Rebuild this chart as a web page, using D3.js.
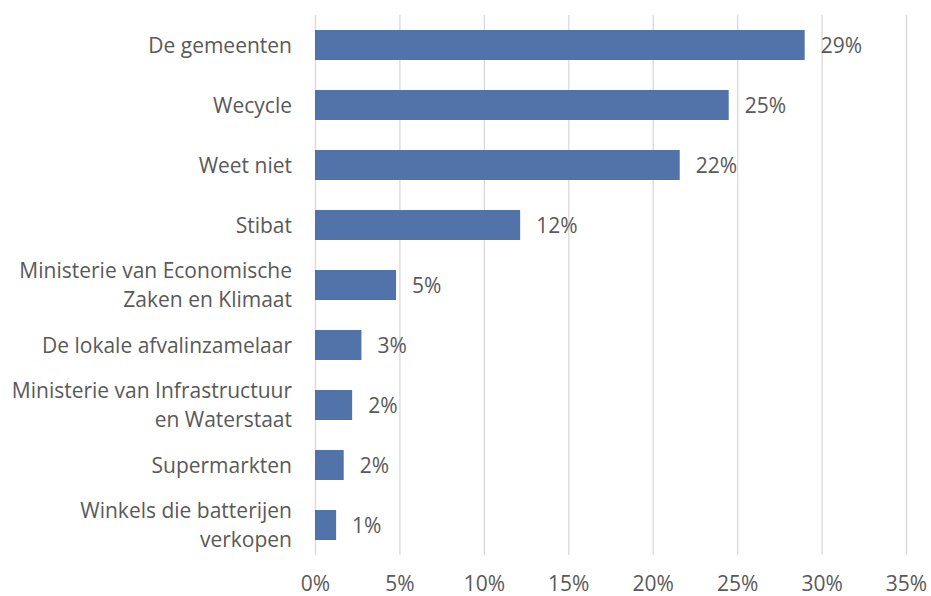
<!DOCTYPE html>
<html lang="nl">
<head>
  <meta charset="utf-8">
  <title>Wie is verantwoordelijk</title>
  <style>
    body { margin: 0; background: #fff; }
    svg text { font-family: 'Open Sans', 'Noto Sans', sans-serif; fill: #595959; }
  </style>
  <script src="https://d3js.org/d3.v7.min.js"></script>
</head>
<body>
  <svg id="chart" width="931" height="596"></svg>

  <script>
    // data (percent)
    var categories = [
      "De gemeenten",
      "Wecycle",
      "Weet niet",
      "Stibat",
      "Ministerie van Economische\nZaken en Klimaat",
      "De lokale afvalinzamelaar",
      "Ministerie van Infrastructuur\nen Waterstaat",
      "Supermarkten",
      "Winkels die batterijen\nverkopen"
    ];
    var values = [29.0, 24.5, 21.6, 12.15, 4.8, 2.75, 2.2, 1.7, 1.25];
    var ticks = [0, 5, 10, 15, 20, 25, 30, 35];

    var fontSize = 21;
    var svg = d3.select("#chart");

    var x = d3.scaleLinear().domain([0, 35]).range([315, 906]);
    var y = d3.scaleBand().domain(categories).range([15, 555])
      .paddingInner(0.5).paddingOuter(0.25);

    // gridlines + x tick labels
    var xAxis = svg.append("g")
      .attr("transform", "translate(0,555)")
      .call(d3.axisBottom(x).tickValues(ticks).tickSize(-540)
        .tickFormat(function (d) { return d + "%"; }));
    xAxis.select(".domain").remove();
    xAxis.selectAll(".tick line").attr("stroke", "#d9d9d9").attr("stroke-width", 1.3);
    xAxis.selectAll(".tick text")
      .attr("y", 36).attr("dy", null)
      .attr("font-size", fontSize)
      .style("fill", "#595959");

    // category labels
    var yAxis = svg.append("g")
      .attr("transform", "translate(292,0)")
      .call(d3.axisLeft(y).tickSize(0).tickPadding(0));
    yAxis.select(".domain").remove();
    yAxis.selectAll(".tick text").each(function (d) {
      var lines = d.split("\n");
      var t = d3.select(this).text(null)
        .attr("x", 0).attr("dy", null)
        .attr("font-size", fontSize)
        .attr("text-anchor", "end")
        .style("fill", "#595959");
      var lh = 28.5;
      var y0 = 7.5 - (lines.length - 1) * lh / 2;
      lines.forEach(function (l, i) {
        t.append("tspan").attr("x", 0).attr("y", y0 + i * lh).text(l);
      });
    });

    // bars
    svg.append("g").selectAll("rect")
      .data(categories)
      .join("rect")
      .attr("x", x(0))
      .attr("y", function (d) { return y(d); })
      .attr("width", function (d, i) { return x(values[i]) - x(0); })
      .attr("height", y.bandwidth())
      .attr("fill", "#5273a9");

    // value labels
    svg.append("g").selectAll("text")
      .data(categories)
      .join("text")
      .attr("x", function (d, i) { return x(values[i]) + 16; })
      .attr("y", function (d) { return y(d) + y.bandwidth() / 2 + 7.5; })
      .attr("font-size", fontSize)
      .text(function (d, i) { return Math.round(values[i]) + "%"; });
  </script>
</body>
</html>
